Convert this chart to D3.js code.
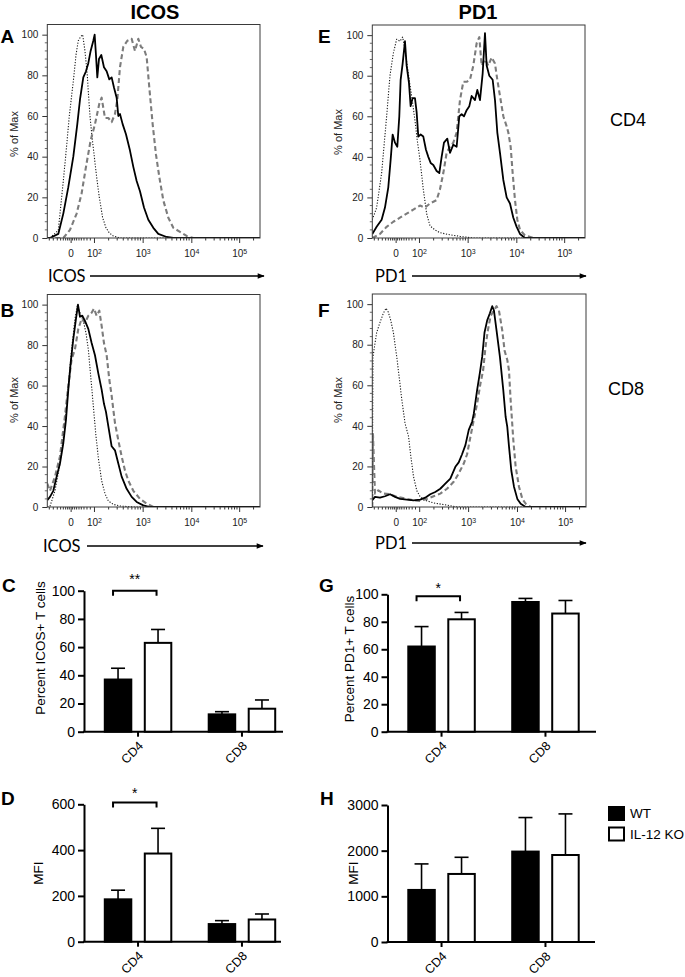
<!DOCTYPE html>
<html><head><meta charset="utf-8">
<script src="https://cdn.jsdelivr.net/npm/d3@7"></script>
<style>
html,body{margin:0;padding:0;background:#fff;overflow:hidden;}
svg{display:block;font-family:"Liberation Sans",Arial,Helvetica,sans-serif;}
</style></head><body>
<svg id="fig" width="685" height="977"></svg>
<script>
// ===== Histogram data: [display channel on the biexponential axis (0-638), % of Max] =====
// A: ICOS, CD4
const icosCD4Iso = [[0,0],[8,0],[33,3.8],[43,20],[48,28],[55,40],[66,60],[73,70],[80,80],[86,90],[93,97],[100,99],[106,100],[113,92],[120,80],[123,72],[128,60],[134,50],[141,40],[148,30],[156,20],[166,10],[176,5],[186,2.5],[198,1],[218,0],[638,0]];
const icosCD4WT = [[0,0],[8,0],[33,2],[48,12],[63,25],[78,40],[90,56],[98,68],[108,79],[116,82],[123,86],[130,92],[138,97],[142,100],[146,90],[150,79],[155,88],[162,90],[170,84],[178,82],[186,78],[193,79],[200,74],[208,69],[213,60],[218,61],[226,56],[236,51],[248,43],[258,35],[268,28],[278,23],[290,15],[303,9],[318,5],[333,2],[358,0.5],[378,0],[638,0]];
const icosCD4KO = [[0,0],[48,0],[68,4],[88,12],[103,22],[116,35],[130,48],[143,56],[156,66],[163,69],[173,59],[183,59],[193,57],[203,61],[210,68],[218,84],[228,94],[240,97],[253,98],[263,92],[273,98],[281,94],[290,93],[298,89],[306,74],[316,56],[326,41],[336,30],[348,18.5],[363,10],[378,5],[398,3],[418,1],[438,0],[638,0]];
// E: PD1, CD4
const pd1CD4Iso = [[0,9],[13,15],[28,32],[43,60],[53,80],[63,91],[73,98],[83,97],[91,99],[98,93],[108,81],[118,70],[128,58],[135,48],[143,38.5],[153,24],[163,12],[173,6],[188,4],[203,2.6],[233,1.6],[263,0.8],[303,0],[638,0]];
const pd1CD4WT = [[0,2],[13,5.5],[28,9],[38,15],[48,25],[55,38.5],[61,51],[68,47],[75,45],[81,60],[85,78],[91,86],[98,97],[103,85],[110,76.5],[115,65],[121,69],[128,69],[133,62],[138,50],[145,51],[153,50],[161,43.5],[168,40],[175,37],[183,36],[193,33],[201,32],[208,40],[215,47],[225,49],[233,42],[243,46],[253,45],[261,60],[268,61],[275,60],[283,63],[291,65],[298,70],[308,68],[315,73],[323,68],[331,81],[338,101],[343,85],[351,80],[361,78],[368,68],[375,52],[383,42],[393,28.6],[403,20],[413,17],[423,10],[433,5.5],[443,2],[458,0],[638,0]];
const pd1CD4KO = [[0,0],[23,2],[43,5.5],[63,8],[83,10],[103,12],[123,14],[143,16],[158,15],[173,17],[193,18.7],[203,24],[213,32],[223,42],[233,45],[243,47],[253,52],[263,68],[273,77],[283,77],[293,78],[303,85],[313,96],[321,99],[328,85],[338,88],[348,85],[358,89],[368,86],[375,78],[383,70],[393,60],[403,55],[408,52],[415,45],[421,32],[428,18.7],[435,9],[443,4],[458,1.3],[483,0],[638,0]];
// B: ICOS, CD8
const icosCD8Iso = [[0,0],[8,0.3],[23,8],[38,21.5],[53,41],[63,60],[73,78],[83,93],[90,99.5],[98,96],[108,92],[116,86],[123,78],[130,65],[138,50],[146,35],[154,23],[163,13],[173,6.6],[183,3],[198,1.3],[218,0.5],[258,0],[638,0]];
const icosCD8WT = [[0,3.3],[8,5],[18,8],[28,15],[38,21.5],[48,31.5],[56,43],[63,58],[70,71],[78,83],[86,93],[92,100],[98,94],[105,94.5],[113,92],[123,88],[133,81],[143,75],[153,66],[163,58],[170,51],[176,47],[183,40],[193,30],[203,28],[213,21.5],[223,15],[238,9],[253,5],[268,2.5],[288,0.8],[308,0],[638,0]];
const icosCD8KO = [[0,11.6],[8,8],[23,15],[38,25],[53,45],[63,60],[73,73],[83,78],[93,88],[103,93],[113,91],[123,94.5],[133,96],[140,98],[148,94.5],[156,97],[163,89.5],[170,81],[178,75],[186,63],[193,55],[203,41.5],[213,33],[223,25],[233,18],[243,13],[258,8],[278,4],[298,1.7],[318,0],[638,0]];
// F: PD1, CD8
const pd1CD8Iso = [[0,0],[2,74],[13,86],[23,91],[33,95.5],[41,98],[48,96],[55,92],[63,86],[73,74],[81,63],[88,53],[98,41],[108,35],[115,25],[123,15],[133,8],[143,5],[158,3.3],[183,2],[213,1.2],[253,0],[638,0]];
const pd1CD8WT = [[0,3.3],[8,5],[23,4.6],[38,5.3],[53,6.3],[68,5],[83,4],[103,3.6],[123,3.3],[143,3.6],[158,4.6],[173,6.3],[188,7.4],[203,9],[218,11.5],[233,14],[248,19.8],[258,22],[268,26],[278,30.5],[288,38],[298,42],[303,46],[313,57.7],[321,66],[328,74],[335,86],[343,92],[351,95.5],[358,99],[363,97],[371,87],[381,74],[391,57.7],[398,44.5],[403,39.5],[408,30],[415,18],[423,10],[433,4],[443,1.6],[458,0],[638,0]];
const pd1CD8KO = [[0,0],[2,36],[8,6.6],[18,8.2],[33,6.6],[53,6.3],[73,5],[103,4],[123,3.3],[143,3],[163,4],[183,5.3],[203,6.6],[223,9],[243,12.4],[258,16.5],[273,21.4],[283,26],[293,34.6],[303,43],[313,51],[323,61],[331,67.5],[338,79],[345,87],[353,94],[361,96.4],[371,99],[378,97],[388,87],[395,77],[403,72.5],[408,67.5],[413,52.7],[421,33],[428,19.8],[438,10],[448,4],[458,1.6],[473,0],[638,0]];

// ===== Histogram axes =====
const histTickLabels = ["0","10","10","10","10"];
const histTickExp = [null,"2","3","4","5"];
const histTickChannels = [70,140,286,432,575.5];
const histLinearMinor = [6,18,30,40,48,55,61,66,76,82,88,95,102,110,119,129];
const histYTicks = [0,20,40,60,80,100];

// ===== Bar chart data =====
const groups = ["CD4","CD8"];
const seriesNames = ["WT","IL-12 KO"];
const icosPctWT = [37,12.3],  icosPctWTErr = [8,1.9];
const icosPctKO = [63,16.3],  icosPctKOErr = [9.5,6.2];
const icosMfiWT = [185,77],   icosMfiWTErr = [40,15];
const icosMfiKO = [385,97],   icosMfiKOErr = [110,24];
const pd1PctWT = [62,94.4],   pd1PctWTErr = [14.5,2.6];
const pd1PctKO = [81.8,86],   pd1PctKOErr = [5,9.5];
const pd1MfiWT = [1140,1980], pd1MfiWTErr = [570,745];
const pd1MfiKO = [1490,1905], pd1MfiKOErr = [365,900];
const pctTicks = [0,20,40,60,80,100];
const icosMfiTicks = [0,200,400,600];
const pd1MfiTicks = [0,1000,2000,3000];

// ===== Drawing =====
const svg = d3.select("#fig");
svg.append("rect").attr("width",685).attr("height",977).attr("fill","#fff");
const defs = svg.append("defs");
defs.append("marker").attr("id","arrow").attr("viewBox","0 0 10 10")
  .attr("refX",9).attr("refY",5).attr("markerWidth",8).attr("markerHeight",7)
  .attr("markerUnits","userSpaceOnUse").attr("orient","auto")
  .append("path").attr("d","M0,1 L10,5 L0,9 Z").attr("fill","#000");

const lineStyles = {
  iso: {stroke:"#1a1a1a", width:1.1, dash:"1.2,1.6"},
  ko:  {stroke:"#7c7c7c", width:2.1, dash:"5,3"},
  wt:  {stroke:"#000", width:1.8, dash:null}
};

let clipId = 0;
function histPanel(o){
  const g = svg.append("g");
  const x = d3.scaleLinear().domain([0,638]).range([o.x0, o.x0+o.w]);
  const y = d3.scaleLinear().domain([0,105]).range([o.y0+o.h, o.y0]);
  const id = "clip"+(clipId++);
  defs.append("clipPath").attr("id",id).append("rect")
    .attr("x",o.x0).attr("y",o.y0-2).attr("width",o.w).attr("height",o.h+2);

  // y axis
  const ya = g.append("g").attr("transform",`translate(${o.x0},0)`)
    .call(d3.axisLeft(y).tickValues(histYTicks).tickSize(5).tickSizeOuter(0).tickPadding(4));
  ya.select(".domain").remove();
  ya.attr("font-family",null).attr("font-size",null);
  ya.selectAll("line").attr("stroke","#333");
  ya.selectAll("text").attr("font-size",10).attr("fill","#222");
  d3.range(0,101,4).filter(v=>v%20!==0).forEach(v=>{
    g.append("line").attr("x1",o.x0-2.5).attr("x2",o.x0).attr("y1",y(v)).attr("y2",y(v)).attr("stroke","#444").attr("stroke-width",0.8);
  });

  // x axis
  const xa = g.append("g").attr("transform",`translate(0,${o.y0+o.h})`)
    .call(d3.axisBottom(x).tickValues(histTickChannels).tickSize(5).tickSizeOuter(0).tickPadding(7).tickFormat(()=>""));
  xa.select(".domain").remove();
  xa.attr("font-family",null).attr("font-size",null);
  xa.selectAll("line").attr("stroke","#333");
  xa.selectAll(".tick text").attr("font-size",10).attr("fill","#222").each(function(d,i){
    const t = d3.select(this);
    t.append("tspan").text(histTickLabels[i]);
    if(histTickExp[i]) t.append("tspan").attr("dy","-0.5em").attr("font-size",7).text(histTickExp[i]);
  });
  // minor ticks
  const minor = histLinearMinor.slice();
  for(let i=1;i<histTickChannels.length;i++){
    const a = histTickChannels[i];
    const step = i<histTickChannels.length-1 ? histTickChannels[i+1]-a : a-histTickChannels[i-1];
    for(let k=2;k<=9;k++){ const c = a + step*Math.log10(k); if(c<638) minor.push(c); }
  }
  minor.forEach(c=>{
    g.append("line").attr("x1",x(c)).attr("x2",x(c)).attr("y1",o.y0+o.h).attr("y2",o.y0+o.h+2.5).attr("stroke","#333");
  });

  // curves
  const line = d3.line().x(d=>x(d[0])).y(d=>y(d[1]));
  const cg = g.append("g").attr("clip-path",`url(#${id})`);
  [["iso",o.iso],["ko",o.ko],["wt",o.wt]].forEach(([k,data])=>{
    const s = lineStyles[k];
    cg.append("path").datum(data).attr("d",line).attr("fill","none")
      .attr("stroke",s.stroke).attr("stroke-width",s.width)
      .attr("stroke-dasharray",s.dash).attr("stroke-linejoin","round");
  });

  // frame
  g.append("rect").attr("x",o.x0).attr("y",o.y0).attr("width",o.w).attr("height",o.h)
    .attr("fill","none").attr("stroke","#3a3a3a").attr("stroke-width",1);

  // y title
  g.append("text").attr("transform",`translate(${o.yTitleX},${o.yTitleY}) rotate(-90)`)
    .attr("text-anchor","middle").attr("font-size",11).attr("fill","#222").text("% of Max");

  // x label with arrow
  g.append("text").attr("x",o.labelX).attr("y",o.labelY).attr("font-family","Lato, 'Liberation Sans', sans-serif")
    .attr("font-size",16.5).attr("fill","#000").text(o.label);
  g.append("line").attr("x1",o.arrowX1).attr("x2",o.arrowX2).attr("y1",o.arrowY).attr("y2",o.arrowY)
    .attr("stroke","#000").attr("stroke-width",1.3).attr("marker-end","url(#arrow)");
}

histPanel({x0:47.3,y0:24.5,w:212.7,h:213.5,iso:icosCD4Iso,wt:icosCD4WT,ko:icosCD4KO,
  label:"ICOS",labelX:48,labelY:282,arrowX1:90,arrowX2:264,arrowY:276,yTitleX:17.5,yTitleY:134});
histPanel({x0:372.3,y0:25,w:212.7,h:213,iso:pd1CD4Iso,wt:pd1CD4WT,ko:pd1CD4KO,
  label:"PD1",labelX:375,labelY:282,arrowX1:412,arrowX2:586,arrowY:276,yTitleX:342,yTitleY:132});
histPanel({x0:47.3,y0:294.5,w:212.7,h:212.5,iso:icosCD8Iso,wt:icosCD8WT,ko:icosCD8KO,
  label:"ICOS",labelX:43,labelY:552,arrowX1:87,arrowX2:263,arrowY:546,yTitleX:17.5,yTitleY:400});
histPanel({x0:372.3,y0:294,w:213.7,h:213,iso:pd1CD8Iso,wt:pd1CD8WT,ko:pd1CD8KO,
  label:"PD1",labelX:375,labelY:549,arrowX1:412,arrowX2:586,arrowY:543,yTitleX:342,yTitleY:400});

function barPanel(o){
  const g = svg.append("g");
  const y = d3.scaleLinear().domain([0,o.yMax]).range([o.zeroY,o.topY]);
  const xg = d3.scalePoint().domain(groups).range([o.axisX,o.axisX+212]).padding(0.52);
  const xs = d3.scaleBand().domain(seriesNames).range([-33.25,33.25]).paddingInner(0.3375);

  const ya = g.append("g").attr("transform",`translate(${o.axisX},0)`)
    .call(d3.axisLeft(y).tickValues(o.ticks).tickSize(6).tickSizeOuter(0).tickPadding(3).tickFormat(d3.format("d")));
  ya.attr("font-family",null).attr("font-size",null);
  ya.selectAll("path,line").attr("stroke","#000").attr("stroke-width",2);
  ya.selectAll("text").attr("font-size",14).attr("fill","#000");

  g.append("line").attr("x1",o.axisX-1).attr("x2",o.axisEnd).attr("y1",o.zeroY).attr("y2",o.zeroY)
    .attr("stroke","#000").attr("stroke-width",2);
  groups.forEach(grp=>{
    const cx = xg(grp);
    g.append("line").attr("x1",cx).attr("x2",cx).attr("y1",o.zeroY).attr("y2",o.zeroY+5)
      .attr("stroke","#000").attr("stroke-width",2);
    g.append("text").attr("transform",`translate(${cx+6},${o.zeroY+15}) rotate(-45)`)
      .attr("text-anchor","end").attr("font-size",12.5).attr("fill","#000").text(grp);
  });

  const series = [
    {name:"WT", v:o.wt, e:o.wtErr, fill:"#000"},
    {name:"IL-12 KO", v:o.ko, e:o.koErr, fill:"#fff"}
  ];
  series.forEach(s=>{
    groups.forEach((grp,i)=>{
      const bx = xg(grp)+xs(s.name), bw = xs.bandwidth(), cx = bx+bw/2;
      const top = y(s.v[i]), cap = y(s.v[i]+s.e[i]);
      g.append("line").attr("x1",cx).attr("x2",cx).attr("y1",top).attr("y2",cap)
        .attr("stroke","#000").attr("stroke-width",1.6);
      g.append("line").attr("x1",cx-7).attr("x2",cx+7).attr("y1",cap).attr("y2",cap)
        .attr("stroke","#000").attr("stroke-width",1.6);
      g.append("rect").attr("x",bx).attr("y",top).attr("width",bw).attr("height",y(0)-top)
        .attr("fill",s.fill).attr("stroke","#000").attr("stroke-width",2);
    });
  });

  if(o.sig){
    const wx = xg(groups[0])+xs(seriesNames[0])+xs.bandwidth()/2 - 5;
    const kx = xg(groups[0])+xs(seriesNames[1])+xs.bandwidth()/2 - 1.5;
    const by = y(o.sig.level);
    g.append("path").attr("d",`M${wx},${by+5}V${by}H${kx}V${by+5}`)
      .attr("fill","none").attr("stroke","#000").attr("stroke-width",2);
    g.append("text").attr("x",(wx+kx)/2).attr("y",by+o.sig.dy).attr("text-anchor","middle")
      .attr("font-size",14).attr("fill","#000").text(o.sig.text);
  }

  g.append("text").attr("transform",`translate(${o.titleX},${o.titleY}) rotate(-90)`)
    .attr("text-anchor","middle").attr("font-size",13.5).attr("fill","#000").text(o.title);
}

barPanel({axisX:84,axisEnd:283,zeroY:731.7,topY:590.7,yMax:100,ticks:pctTicks,
  wt:icosPctWT,wtErr:icosPctWTErr,ko:icosPctKO,koErr:icosPctKOErr,
  title:"Percent ICOS+ T cells",titleX:44.5,titleY:648,sig:{level:100,text:"**",dy:-7}});
barPanel({axisX:84,axisEnd:281,zeroY:941.7,topY:804.3,yMax:600,ticks:icosMfiTicks,
  wt:icosMfiWT,wtErr:icosMfiWTErr,ko:icosMfiKO,koErr:icosMfiKOErr,
  title:"MFI",titleX:43,titleY:873,sig:{level:608,text:"*",dy:-4}});
barPanel({axisX:387.5,axisEnd:596,zeroY:731.7,topY:594.3,yMax:100,ticks:pctTicks,
  wt:pd1PctWT,wtErr:pd1PctWTErr,ko:pd1PctKO,koErr:pd1PctKOErr,
  title:"Percent PD1+ T cells",titleX:354,titleY:659,sig:{level:98.5,text:"*",dy:-3}});
barPanel({axisX:387.5,axisEnd:595,zeroY:942,topY:805,yMax:3000,ticks:pd1MfiTicks,
  wt:pd1MfiWT,wtErr:pd1MfiWTErr,ko:pd1MfiKO,koErr:pd1MfiKOErr,
  title:"MFI",titleX:358,titleY:873,sig:null});

// legend
const leg = svg.append("g");
seriesNames.forEach((s,i)=>{
  leg.append("rect").attr("x",609).attr("y",807+i*20.5).attr("width",15).attr("height",13)
    .attr("fill",i===0?"#000":"#fff").attr("stroke","#000").attr("stroke-width",2);
  leg.append("text").attr("x",630).attr("y",818+i*20.5).attr("font-size",13.5).attr("fill","#000").text(s);
});

// titles, panel letters, row labels
svg.append("text").attr("x",155).attr("y",19).attr("text-anchor","middle").attr("font-weight","bold").attr("font-size",20).text("ICOS");
svg.append("text").attr("x",478).attr("y",19).attr("text-anchor","middle").attr("font-weight","bold").attr("font-size",20).text("PD1");
const letters = [["A",0.5,43],["E",318,43],["B",0.5,317],["F",318,317],["C",2,592],["G",319,592],["D",1,805],["H",320,805]];
letters.forEach(([t,lx,ly])=>svg.append("text").attr("x",lx).attr("y",ly).attr("font-weight","bold").attr("font-size",19).text(t));
svg.append("text").attr("x",610).attr("y",126).attr("font-size",18).text("CD4");
svg.append("text").attr("x",608).attr("y",395).attr("font-size",18).text("CD8");
</script>
</body></html>
